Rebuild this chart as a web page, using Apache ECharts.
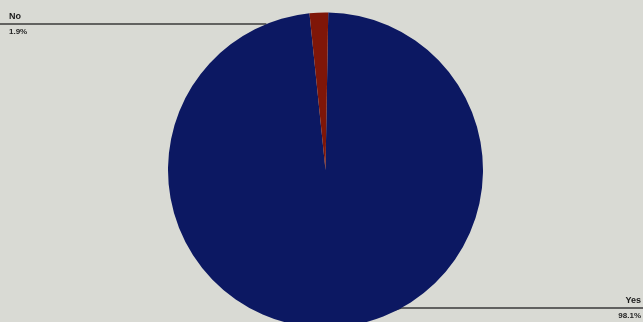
<!DOCTYPE html>
<html><head><meta charset="utf-8">
<script src="https://cdn.jsdelivr.net/npm/echarts@6/dist/echarts.min.js"></script>
<style>html,body{margin:0;padding:0;background:#d9dad4;}#c{width:643px;height:322px;}</style>
</head><body><div id="c"></div>
<script>
var categories = ['Yes', 'No'];
var values = [98.1, 1.9];
var colors = ['#0c1862', '#7f1608'];

var W = 643, H = 322;
var CX = 325.5, CY = 170, R = 157.5;
var lineY = {Yes: 308, No: 24};

var chart = echarts.init(document.getElementById('c'));
chart.setOption({
  backgroundColor: '#d9dad4',
  animation: false,
  series: [{
    type: 'pie',
    center: [CX, CY],
    radius: [0, R],
    startAngle: 89,
    clockwise: true,
    data: categories.map(function (c, i) {
      return {name: c, value: values[i], itemStyle: {color: colors[i]}};
    }),
    label: {
      show: true,
      position: 'outer',
      alignTo: 'edge',
      edgeDistance: 9,
      formatter: function (p) { return '{n|' + p.name + '}\n{v|' + p.value.toFixed(1) + '%}'; },
      rich: {
        n: {fontFamily: 'Liberation Sans', fontWeight: 'bold', fontSize: 9, color: '#1a1a1a', lineHeight: 15},
        v: {fontFamily: 'Liberation Sans', fontWeight: 'bold', fontSize: 8, color: '#262626', lineHeight: 15}
      }
    },
    labelLine: {show: true, length: 5, length2: 5, smooth: false, lineStyle: {color: '#3a3a3a', width: 1.6}},
    labelLayout: function (p) {
      var name = categories[p.dataIndex];
      var y = lineY[name];
      var dy = y - CY;
      var dx = Math.sqrt(Math.max(R * R - dy * dy, 0));
      if (name === 'No') {
        var ex = CX - dx;
        return {
          x: 9, y: y, align: 'left', verticalAlign: 'middle',
          labelLinePoints: [[ex, y], [ex, y], [0, y]]
        };
      } else {
        var ex2 = CX + dx;
        var mid = p.labelLinePoints ? p.labelLinePoints[0] : [CX + 9, CY + R];
        return {
          x: W - 2, y: y, align: 'right', verticalAlign: 'middle',
          labelLinePoints: [mid, [ex2, y], [W, y]]
        };
      }
    }
  }]
});
</script></body></html>
